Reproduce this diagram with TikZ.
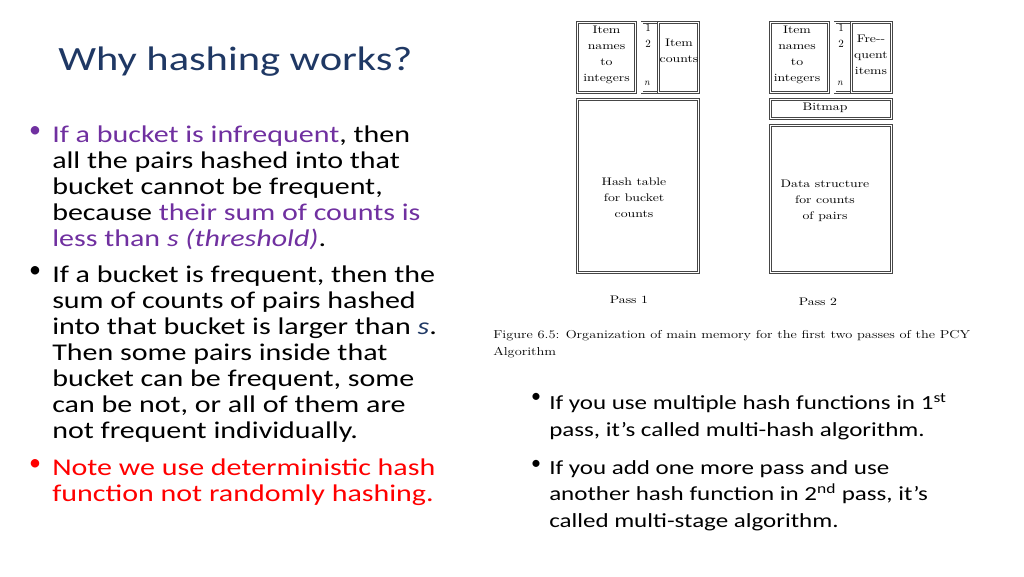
\documentclass[tikz,border=0pt]{standalone}
\usepackage{fontspec}
\setmainfont{Carlito}
\newfontfamily\figfont{Latin Modern Roman}
\usetikzlibrary{positioning}
\definecolor{titleblue}{RGB}{31,56,100}
\definecolor{hilite}{RGB}{112,48,160}
\definecolor{warn}{RGB}{255,0,0}
\definecolor{boxgray}{RGB}{70,70,70}
\begin{document}
\begin{tikzpicture}[x=1pt,y=-1pt,
    wide/.style={xscale=1.25, transform shape},
    para/.style={wide, anchor=north west, inner sep=0pt, align=left, font=\fontsize{24}{26}\selectfont},
    smallpara/.style={wide, anchor=north west, inner sep=0pt, align=left, font=\fontsize{20}{26.5}\selectfont},
    dot/.style={anchor=north west, inner sep=0pt},
    twoline/.style={preaction={draw=boxgray, line width=2.4pt}, draw=white, line width=1.2pt},
    cell/.style={twoline, inner sep=0pt, align=center, font=\figfont\fontsize{11}{16}\selectfont},
    figtext/.style={inner sep=0pt, align=center, font=\figfont\fontsize{11}{16}\selectfont},
    caption/.style={wide, anchor=base west, inner sep=0pt, align=left, font=\figfont\fontsize{11.5}{17}\selectfont}
]
\useasboundingbox (0,0) rectangle (1024,576);

% title
\node[wide, anchor=west, inner sep=0pt, text=titleblue, font=\fontsize{34}{40}\selectfont] (title) at (58,62) {Why hashing works?};

% left bullets
\node[dot, font=\fontsize{24}{26}\selectfont, text=hilite] (b1) at (29,126) {\textbullet};
\node[para] (p1) at (52,126) {\textcolor{hilite}{If a bucket is infrequent}, then\\all the pairs hashed into that\\bucket cannot be frequent,\\because \textcolor{hilite}{their sum of counts is}\\\textcolor{hilite}{less than \textit{s (threshold)}}.};
\node[dot, font=\fontsize{24}{26}\selectfont] (b2) at (29,266) {\textbullet};
\node[para] (p2) at (52,266) {If a bucket is frequent, then the\\sum of counts of pairs hashed\\into that bucket is larger than \textcolor{titleblue}{\textit{s}}.\\Then some pairs inside that\\bucket can be frequent, some\\can be not, or all of them are\\not frequent individually.};
\node[dot, font=\fontsize{24}{26}\selectfont, text=warn] (b3) at (29,459) {\textbullet};
\node[para, text=warn] (p3) at (52,459) {Note we use deterministic hash\\function not randomly hashing.};

% pass 1
\draw[twoline] (574,19) rectangle (702,275);
\node[cell, minimum width=58, minimum height=70] (names1) at (606.5,57.5) {};
\node[cell, minimum width=16, minimum height=70] (idx1) at (650,57.5) {};
\node[cell, minimum width=40, minimum height=70] (counts1) at (678.5,57.5) {};
\node[cell, minimum width=121, minimum height=173] (hash1) at (638,186) {};
\node[figtext, wide] (names1t) at (606.5,55) {Item\\names\\to\\integers};
\node[figtext, wide] (counts1t) at (679,51) {Item\\counts};
\node[figtext, wide] (hash1t) at (634,198) {Hash table\\for bucket\\counts};
\node[figtext] (one1) at (648,28) {1};
\node[figtext] (two1) at (648,44) {2};
\node[figtext, font=\figfont\itshape\fontsize{10}{12}\selectfont] (n1) at (647,83) {n};
\node[figtext, wide] (lbl1) at (629,300) {Pass 1};

% pass 2
\draw[twoline] (767,19) rectangle (895,275);
\node[cell, minimum width=58, minimum height=70] (names2) at (799.5,57.5) {};
\node[cell, minimum width=16, minimum height=70] (idx2) at (843,57.5) {};
\node[cell, minimum width=40, minimum height=70] (freq2) at (871.5,57.5) {};
\node[cell, minimum width=121, minimum height=19] (bitmap2) at (831,109) {};
\node[cell, minimum width=121, minimum height=147] (data2) at (831,199) {};
\node[figtext, wide] (names2t) at (797,55) {Item\\names\\to\\integers};
\node[figtext, wide] (freq2t) at (871,55) {Fre--\\quent\\items};
\node[figtext, wide] (bitmap2t) at (825,108) {Bitmap};
\node[figtext, wide] (data2t) at (825,201) {Data structure\\for counts\\of pairs};
\node[figtext] (one2) at (841,28) {1};
\node[figtext] (two2) at (841,44) {2};
\node[figtext, font=\figfont\itshape\fontsize{10}{12}\selectfont] (n2) at (840,83) {n};
\node[figtext, wide] (lbl2) at (818,302) {Pass 2};

% caption
\node[caption] (cap) at (493,355) {Figure 6.5: Organization of main memory for the first two passes of the PCY\\Algorithm};

% right bullets
\node[dot, font=\fontsize{20}{26}\selectfont] (b4) at (531,393) {\textbullet};
\node[smallpara] (p4) at (549,393) {If you use multiple hash functions in 1\textsuperscript{st}\\pass, it's called multi-hash algorithm.};
\node[dot, font=\fontsize{20}{26}\selectfont] (b5) at (531,460) {\textbullet};
\node[smallpara] (p5) at (549,460) {If you add one more pass and use\\another hash function in 2\textsuperscript{nd} pass, it's\\called multi-stage algorithm.};
\end{tikzpicture}
\end{document}
